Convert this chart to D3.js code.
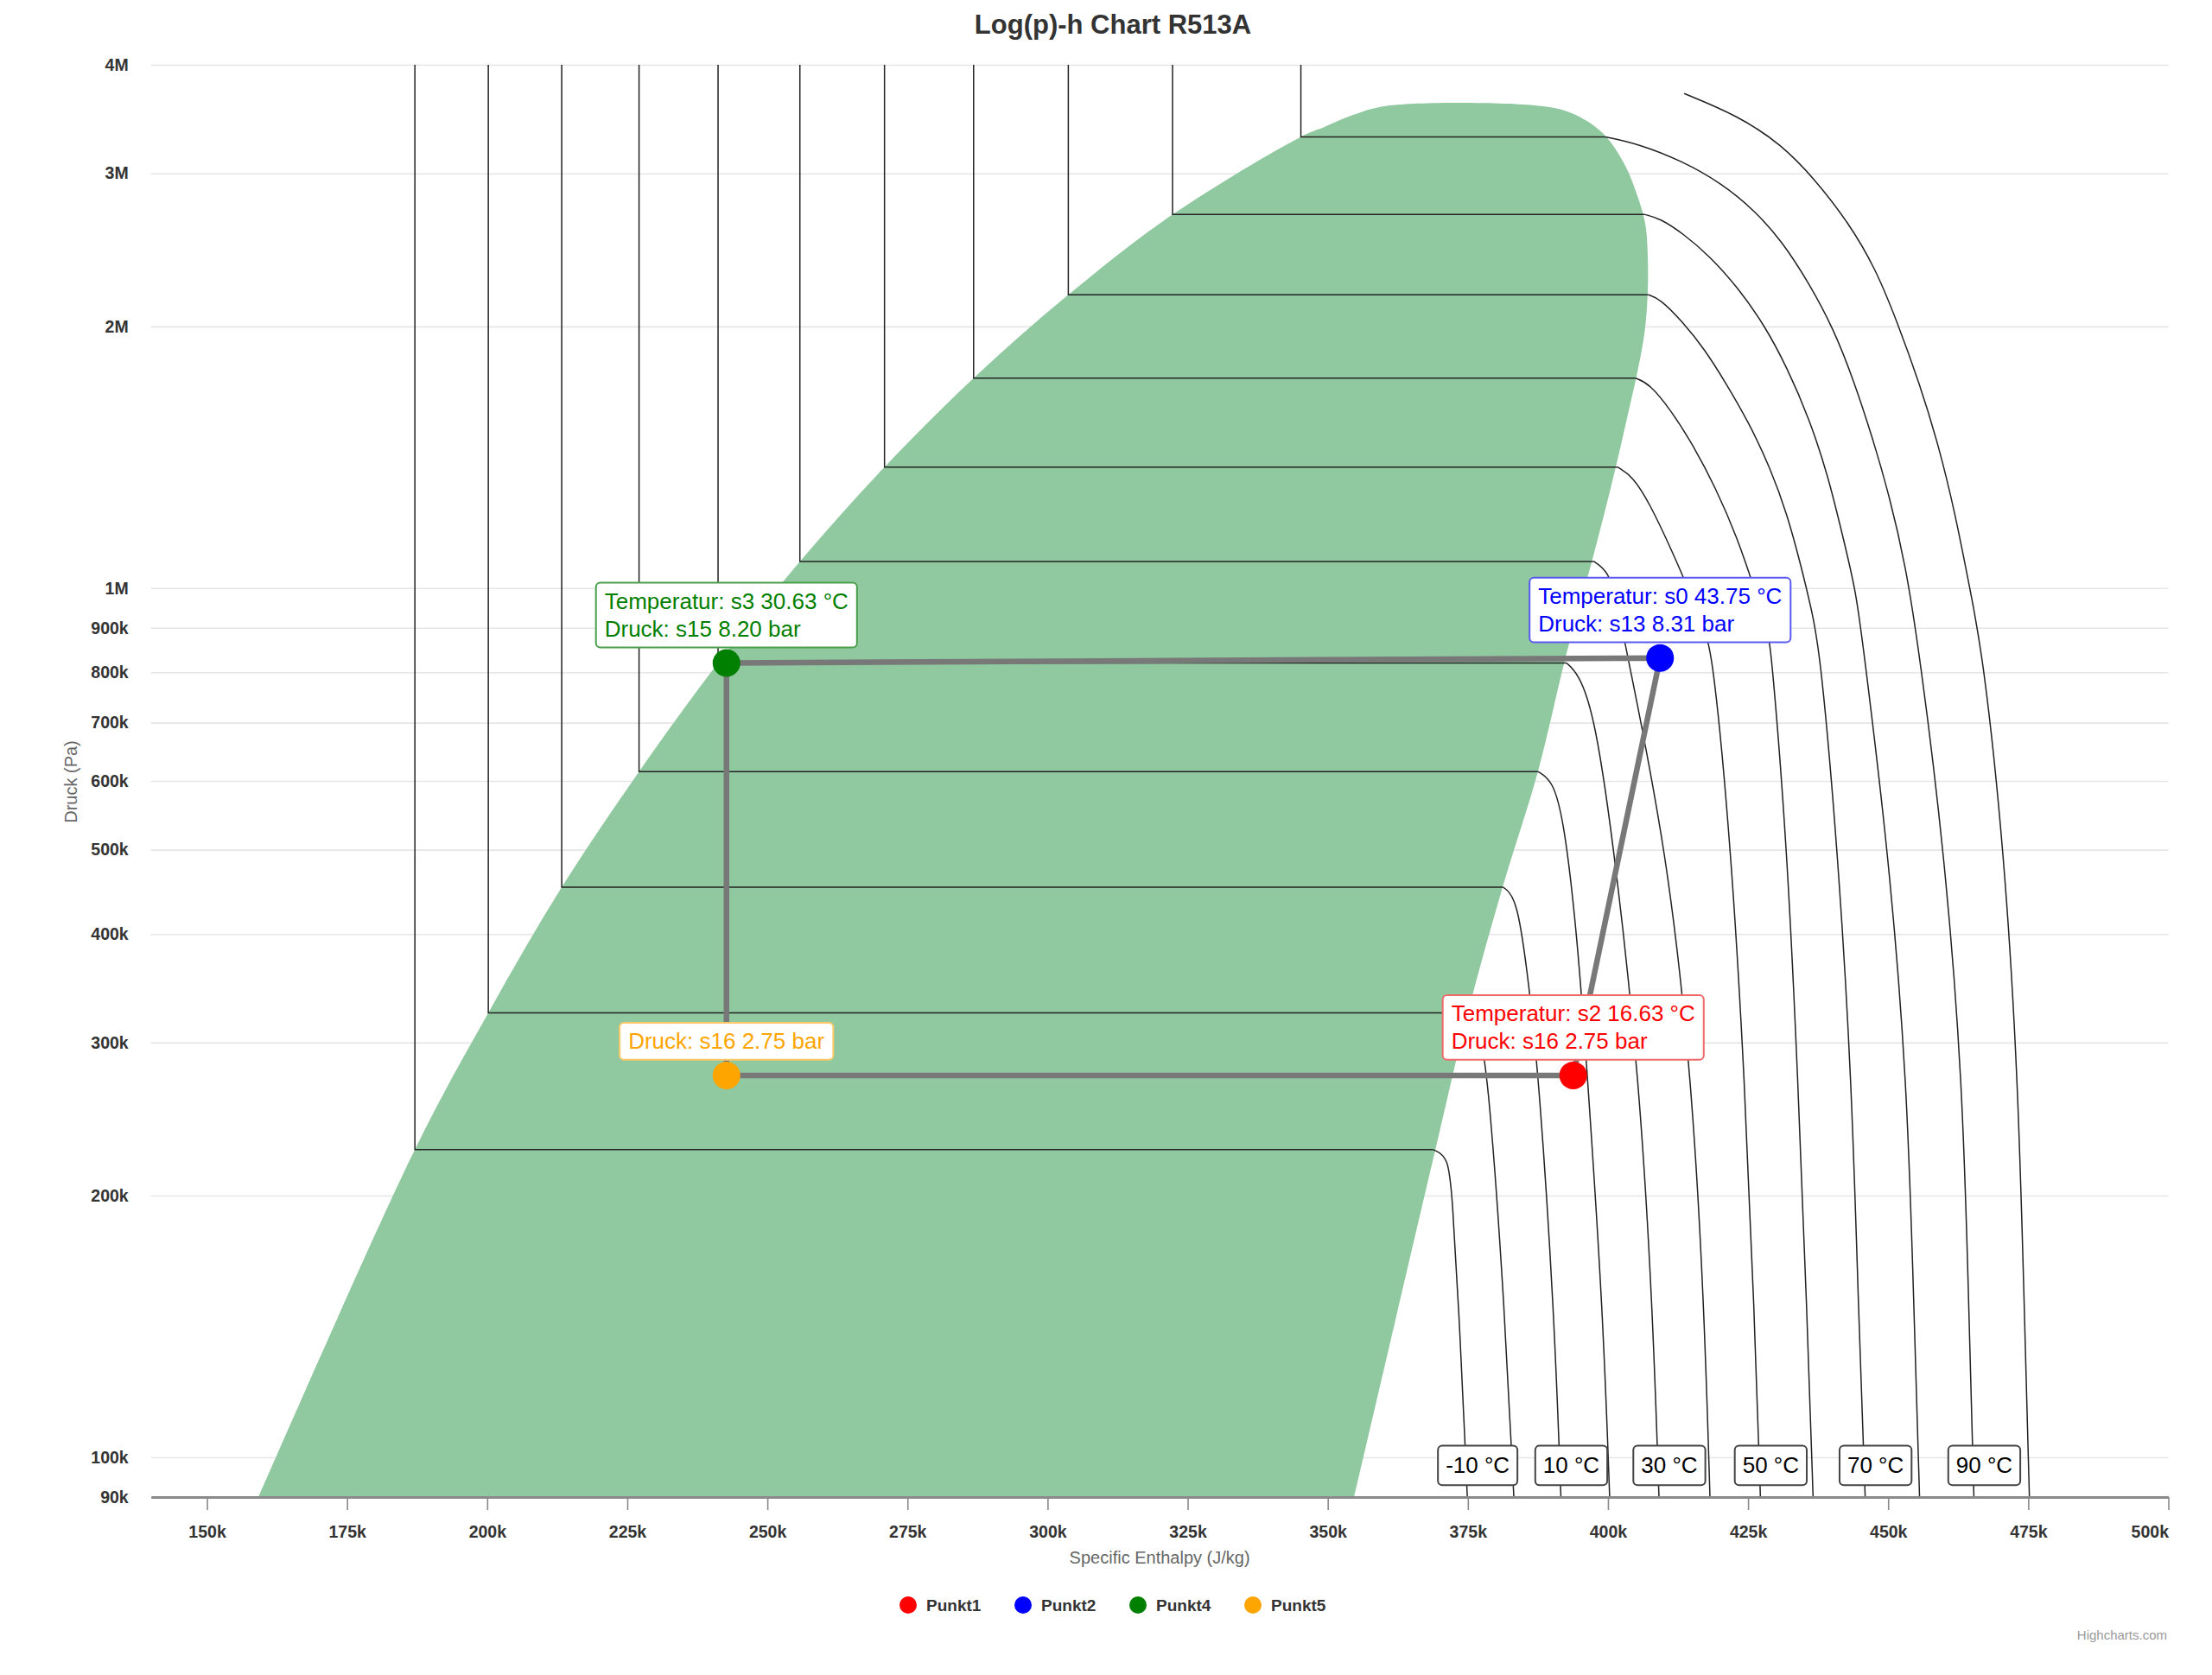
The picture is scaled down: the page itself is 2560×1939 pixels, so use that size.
<!DOCTYPE html>
<html>
<head>
<meta charset="utf-8">
<script src="https://cdn.jsdelivr.net/npm/d3@7"></script>
<style>
  body { margin: 0; background: #fff; }
  text { font-family: "Liberation Sans", Arial, sans-serif; }
</style>
</head>
<body>
<div id="chart"></div>
<script>
var svgWidth = 2560;
var svgHeight = 1939;

var margin = { top: 75, right: 50.5, bottom: 206, left: 174.7 };
var width = svgWidth - margin.left - margin.right;
var height = svgHeight - margin.top - margin.bottom;

// axis ticks
var xTickValues = [150000, 175000, 200000, 225000, 250000, 275000, 300000, 325000,
  350000, 375000, 400000, 425000, 450000, 475000, 500000];
var xTickLabels = ["150k", "175k", "200k", "225k", "250k", "275k", "300k", "325k",
  "350k", "375k", "400k", "425k", "450k", "475k", "500k"];
var yTickValues = [90000, 100000, 200000, 300000, 400000, 500000, 600000, 700000,
  800000, 900000, 1000000, 2000000, 3000000, 4000000];
var yTickLabels = ["90k", "100k", "200k", "300k", "400k", "500k", "600k", "700k",
  "800k", "900k", "1M", "2M", "3M", "4M"];

// two-phase dome (J/kg, Pa)
var satLiquidH = [159200, 187100, 200200, 213300, 227100, 241200, 255800, 270900,
  286800, 303700, 322300, 345200, 349300, 354300, 360600];
var satLiquidP = [90000, 225900, 324600, 452700, 615000, 820000, 1073000, 1378000,
  1744000, 2175000, 2690000, 3305000, 3391000, 3498000, 3588000];
var satVaporH = [387700, 393600, 399000, 402900, 405400, 406700, 407100, 407100,
  406600, 405400, 403400, 401000, 397500, 392600, 387500, 381200, 375000, 369200, 354700];
var satVaporP = [3588000, 3516000, 3340000, 3078000, 2808000, 2614000, 2408000, 2197000,
  1984000, 1791000, 1568000, 1345000, 1096000, 840700, 615000, 452700, 324600, 225900, 90000];

// isotherms
var pTop = 4000000;
var isoTemps = [-10, 0, 10, 20, 30, 40, 50, 60, 70, 80, 90, 100];
var isoLiquidH = [187100, 200200, 213300, 227100, 241200, 255800, 270900, 286800,
  303700, 322300, 345200, null];
var isoVapH = [
  [368800, 371500, 372200, 373400, 374500, 374900],
  [374900, 377000, 378700, 381600, 383200],
  [381300, 383800, 385900, 387700, 390400, 391600],
  [387500, 390100, 392100, 394500, 396400, 399100, 400300],
  [392600, 394600, 397600, 401500, 405600, 408000, 409100],
  [397500, 400000, 401500, 403400, 410500, 415000, 417200, 418200],
  [401700, 404400, 407400, 411300, 414300, 417200, 418700, 422000, 424400, 426100, 427200],
  [404900, 407400, 411300, 415200, 419200, 423100, 426100, 428500, 429200, 432000, 433900, 435500, 436600],
  [407200, 409300, 413300, 417200, 421100, 425100, 429000, 432000, 434400, 436400, 437900, 441000, 443500, 444700, 445900],
  [406600, 409300, 413300, 418200, 423100, 428000, 432000, 435900, 439300, 441800, 444300, 445700, 450000, 453400, 454600, 455600],
  [399500, 405400, 413300, 420200, 426100, 431000, 435900, 440300, 443800, 447200, 450200, 453100, 455600, 460000, 463300, 464400, 465300],
  [413600, 423100, 431000, 436900, 442800, 447700, 451600, 455600, 459000, 462000, 464400, 466900, 470700, 473200, 474300, 475200]
];
var isoVapP = [
  [225900, 221900, 200400, 147500, 103500, 90000],
  [324600, 315000, 271600, 147500, 90000],
  [452700, 441000, 350000, 271600, 147500, 90000],
  [615000, 601000, 543000, 400000, 271600, 147500, 90000],
  [820000, 799000, 719500, 480000, 271600, 147500, 90000],
  [1073000, 1047000, 970000, 841000, 500000, 271600, 147500, 90000],
  [1378000, 1345000, 1253000, 1108000, 1000000, 894000, 841000, 500000, 271600, 147500, 90000],
  [1744000, 1719000, 1600000, 1460000, 1305000, 1142000, 1000000, 894000, 841000, 500000, 271600, 147500, 90000],
  [2175000, 2152000, 2025000, 1885000, 1719000, 1552000, 1373000, 1215000, 1064000, 941000, 841000, 500000, 271600, 147500, 90000],
  [2690000, 2662000, 2561000, 2408000, 2220000, 2004000, 1791000, 1568000, 1345000, 1154000, 990000, 841000, 500000, 271600, 147500, 90000],
  [3305000, 3245000, 3099000, 2924000, 2722000, 2509000, 2242000, 1984000, 1737000, 1490000, 1278000, 1064000, 841000, 500000, 271600, 147500, 90000],
  [3707000, 3498000, 3238000, 2954000, 2640000, 2336000, 2025000, 1719000, 1460000, 1215000, 1011000, 841000, 500000, 271600, 147500, 90000]
];
var isoLabelTemps = [-10, 10, 30, 50, 70, 90];

// cycle points
var pointNames = ["Punkt1", "Punkt2", "Punkt4", "Punkt5"];
var pointColors = ["#ff0000", "#0000ff", "#008000", "#ffa500"];
var pointH = [393800, 409300, 242700, 242700];
var pointP = [275000, 831000, 820000, 275000];
var pointLabels = [
  ["Temperatur: s2 16.63 °C", "Druck: s16 2.75 bar"],
  ["Temperatur: s0 43.75 °C", "Druck: s13 8.31 bar"],
  ["Temperatur: s3 30.63 °C", "Druck: s15 8.20 bar"],
  ["Druck: s16 2.75 bar"]
];

var svg = d3.select("#chart")
  .append("svg")
  .attr("width", svgWidth)
  .attr("height", svgHeight);

var chartGroup = svg.append("g")
  .attr("transform", `translate(${margin.left}, ${margin.top})`);

var xScale = d3.scaleLinear().domain([140000, 500000]).range([0, width]);
var yScale = d3.scaleLog().domain([90000, 4000000]).range([height, 0]);

// y grid + labels
var leftAxis = d3.axisLeft(yScale)
  .tickValues(yTickValues)
  .tickFormat((d, i) => yTickLabels[i])
  .tickSize(-width)
  .tickPadding(26);
var yAxisG = chartGroup.append("g").call(leftAxis);
yAxisG.select(".domain").remove();
yAxisG.selectAll("line").attr("stroke", "#e6e6e6").attr("stroke-width", 1.6);
yAxisG.selectAll("text").attr("fill", "#333").attr("font-size", "19.5px")
  .attr("font-weight", "bold")
  .style("font-family", "'Liberation Sans', Arial, sans-serif");

// dome
var domeLine = d3.line()
  .x(d => xScale(d[0]))
  .y(d => yScale(d[1]))
  .curve(d3.curveCatmullRom.alpha(0.5));
var vapLine = d3.line()
  .x(d => xScale(d[0]))
  .y(d => yScale(d[1]))
  .curve(d3.curveBasis);
var domePts = satLiquidH.map((h, i) => [h, satLiquidP[i]])
  .concat(satVaporH.map((h, i) => [h, satVaporP[i]]));
chartGroup.append("path")
  .attr("d", domeLine(domePts) + "Z")
  .attr("fill", "#90c9a0")
  .attr("stroke", "none");

// isotherms
var linLine = d3.line().x(d => xScale(d[0])).y(d => yScale(d[1]));
isoTemps.forEach(function(t, i) {
  var vap = isoVapH[i].map((h, j) => [h, isoVapP[i][j]]);
  if (isoLiquidH[i] !== null) {
    var psat = isoVapP[i][0];
    chartGroup.append("path")
      .attr("d", linLine([[isoLiquidH[i], pTop], [isoLiquidH[i], psat], [isoVapH[i][0], psat]]))
      .attr("fill", "none").attr("stroke", "#222").attr("stroke-width", 1.5);
  }
  chartGroup.append("path")
    .attr("d", vapLine(vap))
    .attr("fill", "none").attr("stroke", "#222").attr("stroke-width", 1.5);
});

// boxed label helper
function boxLabel(g, cx, topY, lines, color, stroke, size, lineH, padX, padY) {
  var lg = g.append("g");
  var rect = lg.append("rect");
  var txt = lg.append("text")
    .attr("font-size", size + "px")
    .attr("fill", color);
  lines.forEach(function(s, k) {
    txt.append("tspan").attr("x", 0).attr("y", k * lineH).text(s);
  });
  var w = txt.node().getBBox().width;
  var boxW = w + 2 * padX;
  var boxH = lines.length * lineH + 2 * padY - (lineH - size * 1.15);
  rect.attr("x", cx - boxW / 2).attr("y", topY)
    .attr("width", boxW).attr("height", boxH)
    .attr("rx", 5).attr("ry", 5)
    .attr("fill", "#fff").attr("stroke", stroke).attr("stroke-width", 2);
  txt.attr("transform", `translate(${cx - w / 2}, ${topY + padY + size * 0.92})`);
  return boxH;
}

// isotherm labels
isoLabelTemps.forEach(function(t) {
  var i = isoTemps.indexOf(t);
  var hb = isoVapH[i][isoVapH[i].length - 1];
  var cx = xScale(hb) + 12;
  var cy = yScale(100000) + 10;
  boxLabel(chartGroup, cx, cy - 23.5, [t + " °C"], "#000", "#444", 26, 30, 9, 8);
});

// cycle line
var cycleOrder = [0, 1, 2, 3, 0];
chartGroup.append("path")
  .attr("d", linLine(cycleOrder.map(k => [pointH[k], pointP[k]])))
  .attr("fill", "none")
  .attr("stroke", "#787878")
  .attr("stroke-width", 6.5)
  .attr("stroke-linejoin", "round");

// markers
chartGroup.selectAll("circle.pt")
  .data(pointNames)
  .enter()
  .append("circle")
  .attr("class", "pt")
  .attr("cx", (d, i) => xScale(pointH[i]))
  .attr("cy", (d, i) => yScale(pointP[i]))
  .attr("r", 16)
  .attr("fill", (d, i) => pointColors[i]);

// point labels
var labelStrokes = ["#f06a6a", "#5a5af0", "#4aa04a", "#ffc866"];
pointNames.forEach(function(n, i) {
  var boxH = pointLabels[i].length * 32 + 13;
  var top = yScale(pointP[i]) - 16 - boxH;
  boxLabel(chartGroup, xScale(pointH[i]), top, pointLabels[i], pointColors[i],
    labelStrokes[i], 26, 32, 10, 6.5);
});

// x axis
var bottomAxis = d3.axisBottom(xScale)
  .tickValues(xTickValues)
  .tickFormat((d, i) => xTickLabels[i])
  .tickSize(15)
  .tickPadding(18)
  .tickSizeOuter(0);
var xAxisG = chartGroup.append("g")
  .attr("transform", `translate(0, ${height})`)
  .call(bottomAxis);
xAxisG.select(".domain").attr("stroke", "#8a8a8a").attr("stroke-width", 3);
xAxisG.selectAll("line").attr("stroke", "#8a8a8a").attr("stroke-width", 1.6);
xAxisG.selectAll("text").attr("fill", "#333").attr("font-size", "19.5px")
  .attr("font-weight", "bold")
  .style("font-family", "'Liberation Sans', Arial, sans-serif");
xAxisG.selectAll(".tick").filter((d, i) => i === xTickValues.length - 1)
  .select("text").attr("text-anchor", "end");

// title
svg.append("text")
  .attr("x", 1288)
  .attr("y", 39)
  .attr("text-anchor", "middle")
  .attr("font-size", "31px")
  .attr("font-weight", "bold")
  .attr("fill", "#333")
  .text("Log(p)-h Chart R513A");

// axis titles
chartGroup.append("text")
  .attr("x", width / 2)
  .attr("y", height + 77)
  .attr("text-anchor", "middle")
  .attr("font-size", "20px")
  .attr("fill", "#666")
  .text("Specific Enthalpy (J/kg)");

chartGroup.append("text")
  .attr("transform", "rotate(-90)")
  .attr("x", -(yScale(600000) + 1))
  .attr("y", -margin.left + 89)
  .attr("text-anchor", "middle")
  .attr("font-size", "20px")
  .attr("fill", "#666")
  .text("Druck (Pa)");

// legend
var legendX = [1051, 1184, 1317, 1450];
var legend = svg.append("g");
pointNames.forEach(function(n, i) {
  legend.append("circle")
    .attr("cx", legendX[i]).attr("cy", 1858).attr("r", 10)
    .attr("fill", pointColors[i]);
  legend.append("text")
    .attr("x", legendX[i] + 21).attr("y", 1858)
    .attr("dy", "0.35em")
    .attr("font-size", "19px")
    .attr("font-weight", "bold")
    .attr("fill", "#333")
    .text(n);
});

// credits
svg.append("text")
  .attr("x", 2508)
  .attr("y", 1898)
  .attr("text-anchor", "end")
  .attr("font-size", "15px")
  .attr("fill", "#999")
  .text("Highcharts.com");
</script>
</body>
</html>
